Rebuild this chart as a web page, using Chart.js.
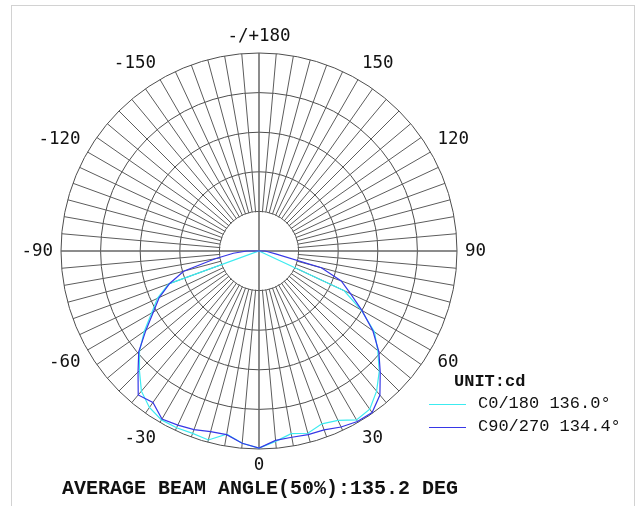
<!DOCTYPE html>
<html>
<head>
<meta charset="utf-8">
<style>
    html, body { margin: 0; padding: 0; background: #fff; }
    body { width: 641px; height: 506px; position: relative; overflow: hidden; }
    .frame {
        position: absolute; left: 11px; top: 5px;
        width: 624px; height: 600px;
        border: 1px solid #d2d2d2; box-sizing: border-box;
    }
    #polar { position: absolute; left: 0; top: 0; }
    .mono { position: absolute; font-family: "Liberation Mono", "Courier New", monospace; color: #111; white-space: nowrap; }
    .unit { left: 454px; top: 373px; font-size: 17px; line-height: 17px; font-weight: bold; }
    .item { left: 478px; font-size: 17px; line-height: 17px; }
    .swatch { position: absolute; left: 429px; width: 37px; height: 1px; }
    .footer { left: 62px; top: 479px; font-size: 20px; line-height: 20px; font-weight: bold; }
</style>
</head>
<body>
<div class="frame"></div>
<canvas id="polar" width="641" height="506"></canvas>
<div class="mono unit">UNIT:cd</div>
<div class="swatch" id="sw0" style="top:404px"></div>
<div class="mono item" id="lab0" style="top:395px"></div>
<div class="swatch" id="sw1" style="top:427px"></div>
<div class="mono item" id="lab1" style="top:418px"></div>
<div class="mono footer">AVERAGE BEAM ANGLE(50%):135.2 DEG</div>

<script src="https://cdn.jsdelivr.net/npm/chart.js"></script>
<script>
    // gamma angles of the measured curves (0 = straight down)
    const gammaAngles = [-90,-85,-80,-75,-70,-65,-60,-55,-50,-45,-40,-35,-30,-25,-20,-15,-10,-5,
                         0,5,10,15,20,25,30,35,40,45,50,55,60,65,70,75,80,85,90];
    // intensity, scale 0..1000
    const c0180 = [0,0,0,0,485,566,626,707,788,854,924,965,985,985,980,988,939,975,
                   995,965,937,953,929,944,985,975,924,859,783,712,596,475,0,0,0,0,0];
    const c90270 = [61,130,225,394,480,556,616,697,793,864,949,934,980,970,960,944,942,975,
                    995,960,955,960,961,981,994,996,950,866,790,702,600,510,442,326,85,45,30];

    const seriesNames = ['C0/180 136.0°', 'C90/270 134.4°'];
    const seriesColors = ['rgb(60,235,240)', 'rgb(55,55,230)'];

    const tickAngles = [180,150,120,90,60,30,0,-30,-60,-90,-120,-150];
    const tickTexts = ['-/+180','150','120','90','60','30','0','-30','-60','-90','-120','-150'];

    // one spoke every 5 degrees, going clockwise from the top (180)
    const angleLabels = [];
    for (let i = 0; i < 72; i++) angleLabels.push(180 - 5 * i);

    function toRadar(values) {
        return angleLabels.map(a => {
            const k = gammaAngles.indexOf(a);
            return k >= 0 ? values[k] : 0;
        });
    }

    const axisColor = '#666';

    // white hole in the middle, with the main axes running through it
    const holePlugin = {
        id: 'hole',
        beforeDatasetsDraw(chart) {
            const s = chart.scales.r;
            const ctx = chart.ctx;
            const inner = s.getDistanceFromCenterForValue(s.ticks[1].value);
            ctx.save();
            ctx.fillStyle = '#fff';
            ctx.beginPath();
            ctx.arc(s.xCenter, s.yCenter, inner - 0.6, 0, Math.PI * 2);
            ctx.fill();
            ctx.strokeStyle = axisColor;
            ctx.lineWidth = 1.5;
            [0, 18, 36, 54].forEach(i => {
                const p = s.getPointPosition(i, inner);
                ctx.beginPath();
                ctx.moveTo(s.xCenter, s.yCenter);
                ctx.lineTo(p.x, p.y);
                ctx.stroke();
            });
            ctx.restore();
        }
    };

    const anglePlugin = {
        id: 'angleText',
        afterDraw(chart) {
            const s = chart.scales.r;
            const ctx = chart.ctx;
            ctx.save();
            ctx.font = '17.5px "DejaVu Sans Mono"';
            ctx.fillStyle = '#111';
            tickAngles.forEach((a, k) => {
                const i = angleLabels.indexOf(a);
                const deg = i * 5;
                const p = s.getPointPosition(i, s.drawingArea + 8);
                ctx.textAlign = (deg === 0 || deg === 180) ? 'center' : (deg < 180 ? 'left' : 'right');
                ctx.textBaseline = (deg === 90 || deg === 270) ? 'middle' : ((deg > 270 || deg < 90) ? 'bottom' : 'top');
                ctx.fillText(tickTexts[k], p.x, p.y);
            });
            ctx.restore();
        }
    };

    new Chart(document.getElementById('polar'), {
        type: 'radar',
        data: {
            labels: angleLabels,
            datasets: [
                { label: seriesNames[1], data: toRadar(c90270), borderColor: seriesColors[1] },
                { label: seriesNames[0], data: toRadar(c0180), borderColor: seriesColors[0] }
            ]
        },
        options: {
            responsive: false,
            animation: false,
            layout: { padding: { left: 61, top: 53, right: 184, bottom: 57 } },
            plugins: { legend: { display: false }, tooltip: { enabled: false } },
            elements: {
                point: { radius: 0 },
                line: { tension: 0, borderWidth: 1.2, fill: false }
            },
            scales: {
                r: {
                    min: 0,
                    max: 1000,
                    ticks: { display: false, stepSize: 200 },
                    grid: { circular: true, color: '#4e4e4e', lineWidth: 1 },
                    angleLines: {
                        color: c => c.index % 18 === 0 ? axisColor : '#5c5c5c',
                        lineWidth: c => c.index % 18 === 0 ? 1.5 : 1
                    },
                    pointLabels: { display: false }
                }
            }
        },
        plugins: [holePlugin, anglePlugin]
    });

    [0, 1].forEach(k => {
        document.getElementById('sw' + k).style.background = seriesColors[k];
        document.getElementById('lab' + k).textContent = seriesNames[k];
    });
</script>
</body>
</html>
